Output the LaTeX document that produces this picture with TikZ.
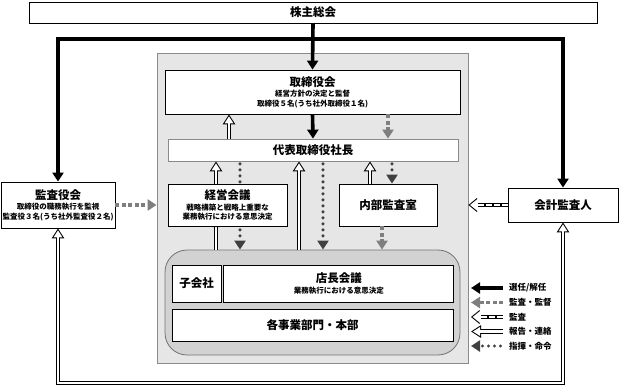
\documentclass[tikz,border=0pt]{standalone}
\usepackage{fontspec}
\setmainfont{Noto Sans CJK JP}
\usepackage{xcolor}
\definecolor{panelGray}{HTML}{E6E6E6}
\definecolor{groupGray}{HTML}{D2D2D2}
\definecolor{edgeGray}{HTML}{8A8A8A}
\definecolor{superviseGray}{HTML}{7F7F7F}
\definecolor{commandGray}{HTML}{404040}
\usetikzlibrary{positioning,arrows.meta}
\newcommand{\headTxt}{\fontsize{11.5}{13}\selectfont\bfseries}
\newcommand{\noteTxt}{\fontsize{7.5}{9.5}\selectfont\bfseries}
\tikzset{%
  orgBox/.style={
    rectangle, draw=black, line width=0.8pt, fill=white,
    inner sep=0pt, align=center, font=\headTxt},
  infoBox/.style ={orgBox, font=\noteTxt},
  corePanel/.style={rectangle, draw=edgeGray, line width=0.8pt, fill=panelGray,
    minimum width=311pt, minimum height=310pt},
  groupPanel/.style={rectangle, rounded corners=22pt, draw=black!55, line width=0.8pt,
    fill=groupGray, minimum width=295pt, minimum height=105pt},
  legendText/.style={inner sep=0pt, anchor=west, font=\fontsize{8.5}{10}\selectfont\bfseries},
  selectArrow/.style={draw=black, line width=3.6pt, -{Triangle[length=9pt,width=11pt]}},
  superviseArrow/.style={draw=superviseGray, line width=3.6pt,
    dash pattern=on 4pt off 2.5pt, -{Triangle[length=9pt,width=11pt]}},
  commandArrow/.style={draw=commandGray, line width=3.4pt, line cap=round,
    dash pattern=on 0pt off 6pt, shorten <=2.5pt, -{Triangle[length=9pt,width=11pt]}},
  reportArrow/.style={draw=white, line width=2.6pt, shorten >=1.9pt,
    -{Triangle[length=7.1pt,width=8.4pt]},
    preaction={draw=black, line width=4.6pt, shorten >=0pt,
      -{Triangle[length=10pt,width=12pt]}}},
  reportTwoWay/.style={draw=white, line width=2.6pt, shorten >=1.9pt, shorten <=1.9pt,
    {Triangle[length=7.1pt,width=8.4pt]}-{Triangle[length=7.1pt,width=8.4pt]},
    preaction={draw=black, line width=4.6pt, shorten >=0pt, shorten <=0pt,
      {Triangle[length=10pt,width=12pt]}-{Triangle[length=10pt,width=12pt]}}},
  auditArrow/.style={draw=white, line width=1.8pt, dash pattern=on 6pt off 2pt,
    shorten >=10pt,
    preaction={draw=black, line width=3.8pt},
    postaction={draw=black, line width=0.9pt, shorten >=0pt,
      dash pattern=on 0pt off 500pt, -{Straight Barb[length=8pt,width=13pt]}}},
}

\begin{document}
\begin{tikzpicture}[x=1pt,y=-1pt]
  \useasboundingbox (0,0) rectangle (623,387);

  % company panel and group panel
  \node[corePanel]  (core)  at (312.5,208) {};
  \node[groupPanel] (group) at (312.5,302.5) {};

  \node[orgBox, minimum width=568pt, minimum height=21pt] (kabu) at (313,12.5) {株主総会};
  \node[infoBox, minimum width=114pt, minimum height=46pt] (kansayaku) at (58,205)
    {{\headTxt 監査役会}\\[1pt]取締役の職務執行を監視\\監査役３名(うち社外監査役２名)};
  \node[orgBox, minimum width=110pt, minimum height=34pt] (kaikei) at (563,205) {会計監査人};
  \node[infoBox, minimum width=295pt, minimum height=44pt] (torishimari) at (312.5,92)
    {{\headTxt 取締役会}\\[1pt]経営方針の決定と監督\\取締役５名(うち社外取締役１名)};
  \node[orgBox, draw=edgeGray, minimum width=290pt, minimum height=22pt] (daihyo) at (313,150) {代表取締役社長};
  \node[orgBox, minimum width=98pt, minimum height=42pt] (naibu) at (388,205) {内部監査室};
  \node[orgBox, minimum width=49pt, minimum height=37pt] (kogaisha) at (196.5,283.5) {子会社};
  \node[infoBox, minimum width=230pt, minimum height=37pt, right=2pt of kogaisha] (tencho)
    {{\headTxt 店長会議}\\[1pt]業務執行における意思決定};
  \node[orgBox, minimum width=281pt, minimum height=32pt] (jigyo) at (312.5,325) {各事業部門・本部};

  % columns of the vertical connectors
  \coordinate (split) at (313,39);
  \coordinate (loopEnd) at (563,383);
  \coordinate (colReportA)  at (229,0);
  \coordinate (colSuperA)   at (388,0);
  \coordinate (colReportB)  at (216,0);
  \coordinate (colCommandB) at (240,0);
  \coordinate (colReportC)  at (299,0);
  \coordinate (colCommandC) at (323,0);
  \coordinate (colReportD)  at (370,0);
  \coordinate (colCommandD) at (392,0);
  \coordinate (colSuperD)   at (382,0);

  \draw[selectArrow] (kabu.south) -- (torishimari.north);
  \draw[selectArrow] (split) -| (kansayaku.north);
  \draw[selectArrow] (split) -| (kaikei.north);
  \draw[selectArrow] (torishimari.south) -- (daihyo.north);
  \draw[reportArrow] (daihyo.north -| colReportA) -- (torishimari.south -| colReportA);
  \draw[superviseArrow] (torishimari.south -| colSuperA) -- (daihyo.north -| colSuperA);

  \draw[reportArrow]  (group.north -| colReportB) -- (daihyo.south -| colReportB);
  \draw[commandArrow] (daihyo.south -| colCommandB) -- (group.north -| colCommandB);
  \draw[reportArrow]  (group.north -| colReportC) -- (daihyo.south -| colReportC);
  \draw[commandArrow] (daihyo.south -| colCommandC) -- (group.north -| colCommandC);
  \draw[reportArrow]  (naibu.north -| colReportD) -- (daihyo.south -| colReportD);
  \draw[commandArrow] (daihyo.south -| colCommandD) -- (naibu.north -| colCommandD);
  \draw[superviseArrow] (naibu.south -| colSuperD) -- (group.north -| colSuperD);

  \draw[superviseArrow] (kansayaku.east) -- (kansayaku.east -| core.west);
  \draw[auditArrow] (kaikei.west) -- (kaikei.west -| core.east);
  \draw[reportTwoWay] (kansayaku.south) |- (loopEnd) -- (kaikei.south);

  % on top of the connectors behind it
  \node[infoBox, minimum width=119pt, minimum height=42pt] (keiei) at (227.5,205)
    {{\headTxt 経営会議}\\[1pt]戦略構築と戦略上重要な\\業務執行における意思決定};

  % legend
  \foreach \sty/\txt [count=\i] in {selectArrow/{選任/解任}, superviseArrow/{監査・監督},
      auditArrow/{監査}, reportArrow/{報告・連絡}, commandArrow/{指揮・命令}}{
    \coordinate (lgFrom\i) at (503,{273.5+14.5*\i});
    \coordinate (lgTo\i) at (471,{273.5+14.5*\i});
    \draw[\sty] (lgFrom\i) -- (lgTo\i);
    \node[legendText, right=6pt of lgFrom\i] (lgText\i) {\txt};
  }
\end{tikzpicture}
\end{document}
